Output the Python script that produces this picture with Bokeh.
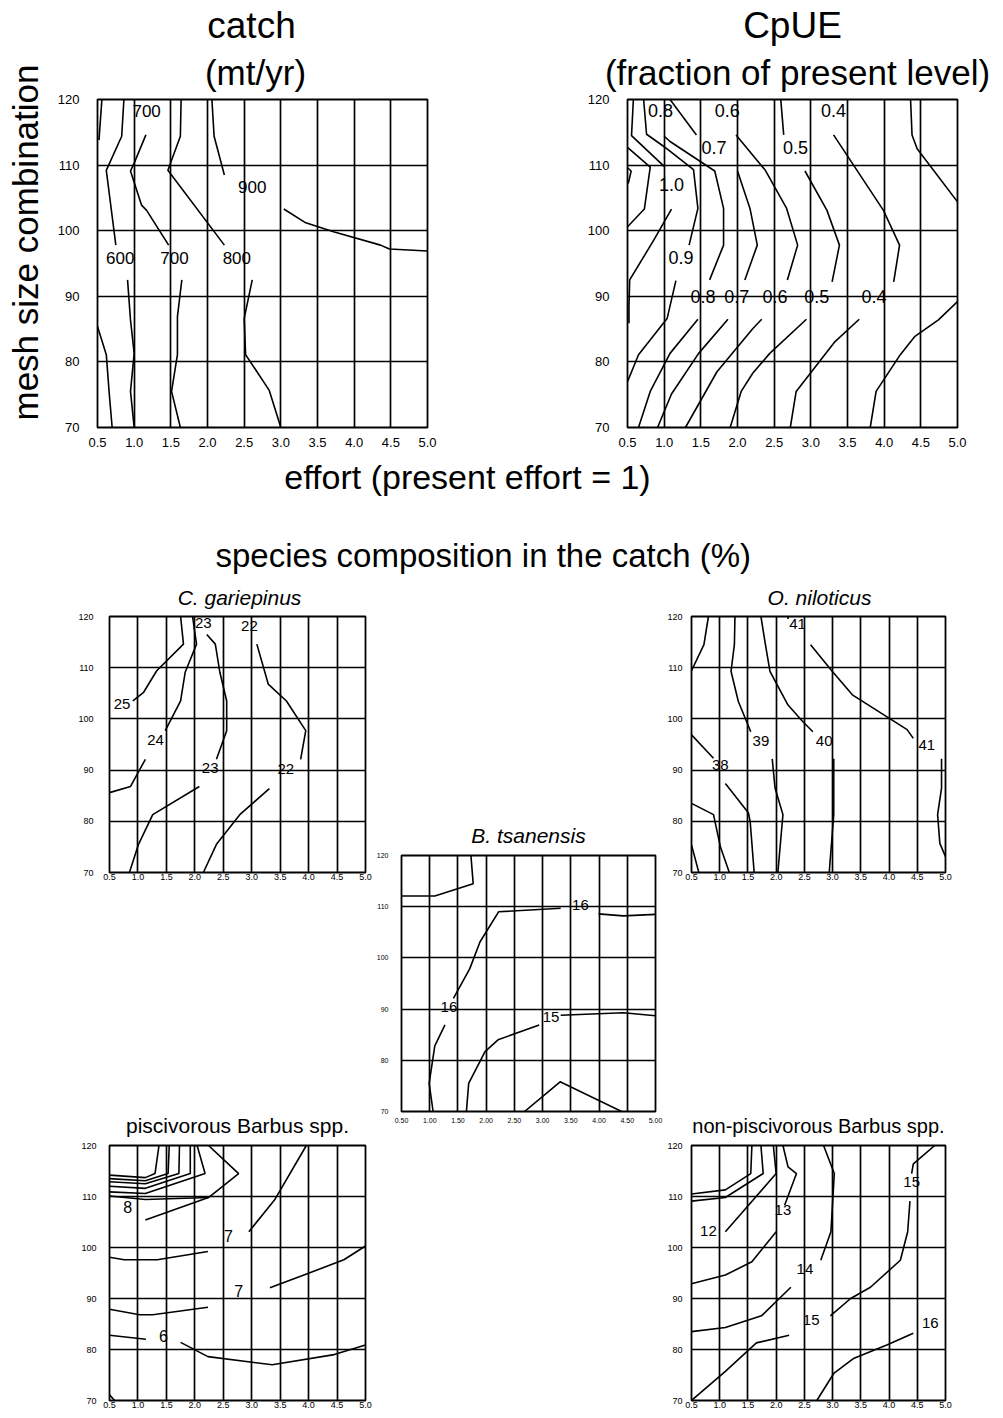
from bokeh.plotting import figure
from bokeh.models import Range1d, FixedTicker, Label
from bokeh.layouts import row, column
from bokeh.embed import file_html
from bokeh.resources import INLINE
from bokeh.core.properties import value

FONT = "Liberation Sans"

# ---------------- axes ----------------
x_ticks = [0.5, 1.0, 1.5, 2.0, 2.5, 3.0, 3.5, 4.0, 4.5, 5.0]
x_tick_labels = ["0.5", "1.0", "1.5", "2.0", "2.5", "3.0", "3.5", "4.0", "4.5", "5.0"]
x_tick_labels_2dp = ["0.50", "1.00", "1.50", "2.00", "2.50", "3.00", "3.50", "4.00", "4.50", "5.00"]
y_ticks = [70, 80, 90, 100, 110, 120]
y_tick_labels = ["70", "80", "90", "100", "110", "120"]

# ---------------- catch (mt/yr) ----------------
catch_xs = [[0.56, 0.52],
            [0.86, 0.83, 0.62, 0.75],
            [1.16, 1.0, 0.95, 1.10, 1.17, 1.47],
            [1.64, 1.63, 1.46, 2.23],
            [2.06, 2.09, 2.23],
            [3.04, 3.34, 3.73, 4.36, 4.48, 5.0],
            [0.91, 0.95, 1.0, 0.95, 1.0],
            [0.5, 0.62, 0.66, 0.70],
            [1.65, 1.59, 1.59, 1.51, 1.63],
            [2.61, 2.50, 2.52, 2.84, 3.0]]
catch_ys = [[120, 113.8],
            [120, 114.4, 109.2, 97.8],
            [114.6, 110.3, 109.1, 103.9, 103.1, 97.8],
            [120, 114.4, 109.2, 97.8],
            [120, 114.4, 108.5],
            [103.3, 101.2, 99.8, 97.8, 97.2, 96.9],
            [92.5, 86.4, 81.3, 75.5, 70],
            [85.4, 81.1, 75.2, 70],
            [92.5, 86.9, 81.1, 75.5, 70],
            [92.5, 86.6, 81.1, 75.7, 70]]
catch_lab_text = ["700", "900", "600", "700", "800"]
catch_lab_x = [1.17, 2.61, 0.81, 1.55, 2.40]
catch_lab_y = [118.3, 106.6, 95.9, 95.9, 95.9]

# ---------------- CpUE (fraction of present level) ----------------
cpue_xs = [[0.58, 0.555, 1.0],
           [0.5, 0.81, 0.73, 0.5],
           [0.5, 0.55, 0.51],
           [0.72, 0.76, 1.0, 1.40, 1.46, 1.34],
           [1.0, 1.08, 1.69, 1.81, 1.81, 1.62],
           [1.08, 1.44],
           [2.0, 2.17, 2.27, 2.10],
           [1.98, 2.38, 2.67, 2.82, 2.68],
           [2.59, 2.63],
           [2.92, 3.22, 3.39, 3.29],
           [3.31, 3.99, 4.21, 4.13],
           [4.36, 4.38, 4.45, 5.0],
           [1.10, 0.86, 0.53, 0.52, 0.52],
           [1.16, 1.04, 0.65, 0.5],
           [1.46, 1.08, 0.81, 0.65],
           [1.87, 1.47, 1.10, 0.91],
           [2.33, 2.21, 1.72, 1.29],
           [2.94, 2.44, 2.21, 2.05, 1.90],
           [3.66, 3.33, 2.80, 2.72],
           [5.0, 4.74, 4.42, 4.22, 3.89, 3.81]]
cpue_ys = [[120, 114.5, 109.8],
           [112.7, 109.7, 103.3, 100.6],
           [109.6, 109.1, 107.2],
           [120, 114.7, 112.8, 109.3, 103.4, 97.8],
           [114.4, 113.6, 109.1, 103.4, 97.8, 92.5],
           [120, 114.6],
           [109.1, 103.4, 97.8, 92.5],
           [114.6, 109.2, 103.4, 97.8, 92.5],
           [120, 114.6],
           [109.1, 103.1, 97.8, 92.2],
           [114.6, 103.1, 97.8, 92.2],
           [120, 114.6, 112.5, 104.4],
           [103.3, 98.6, 92.5, 88.5, 85.9],
           [92.4, 86.6, 81.1, 77.0],
           [86.5, 81.3, 75.5, 70],
           [86.5, 81.3, 75.1, 70],
           [86.5, 85.1, 78.5, 70],
           [86.5, 81.3, 78.3, 75.5, 70],
           [86.5, 83.1, 75.5, 70],
           [89.2, 86.4, 83.9, 81.1, 75.5, 70]]
cpue_lab_text = ["0.8", "0.6", "0.4", "0.7", "0.5", "1.0", "0.9", "0.8", "0.7", "0.6", "0.5", "0.4"]
cpue_lab_x = [0.95, 1.86, 3.31, 1.68, 2.79, 1.10, 1.23, 1.53, 1.99, 2.51, 3.08, 3.86]
cpue_lab_y = [118.3, 118.3, 118.3, 112.7, 112.7, 107.0, 95.9, 90.0, 90.0, 90.0, 90.0, 90.0]

# ---------------- C. gariepinus ----------------
cg_xs = [[1.75, 1.80, 1.33, 1.10, 0.91],
         [1.96, 2.03, 1.83, 1.75, 1.48],
         [2.21, 2.36, 2.44, 2.56, 2.56, 2.38],
         [3.09, 3.29, 3.61, 3.95, 3.86],
         [0.5, 0.87, 1.13],
         [0.85, 1.01, 1.26, 2.08],
         [2.15, 2.38, 2.79, 3.31]]
cg_ys = [[120, 114.6, 109.4, 105.2, 103.5],
         [120, 114.6, 109.1, 103.5, 97.7],
         [116.5, 114.6, 109.1, 103.5, 97.7, 92.1],
         [114.6, 106.8, 103.5, 97.7, 92.1],
         [85.6, 86.8, 92.1],
         [70, 75.5, 81.3, 86.8],
         [70, 75.5, 81.3, 86.4]]
cg_lab_text = ["25", "24", "23", "23", "22", "22"]
cg_lab_x = [0.72, 1.31, 2.15, 2.27, 2.96, 3.60]
cg_lab_y = [102.9, 95.9, 118.8, 90.5, 118.2, 90.3]

# ---------------- O. niloticus ----------------
on_xs = [[0.80, 0.72, 0.5],
         [1.27, 1.26, 1.20, 1.33, 1.55],
         [1.73, 1.81, 1.89, 2.21, 2.47, 2.65],
         [2.61, 2.97, 3.35, 4.32, 4.43],
         [0.5, 0.89],
         [1.10, 1.51, 1.54, 1.61],
         [0.5, 0.89, 1.01, 1.17],
         [0.5, 0.63],
         [1.93, 1.98, 2.12, 2.03],
         [3.02, 3.02, 2.94],
         [4.93, 4.93, 4.86, 4.90, 5.0],
         [2.21, 2.21]]
on_ys = [[120, 114.5, 109.4],
         [120, 114.5, 109.3, 103.4, 97.5],
         [120, 114.5, 109.3, 102.7, 99.5, 97.5],
         [114.5, 109.6, 104.7, 97.9, 96.2],
         [96.9, 92.3],
         [87.4, 81.6, 79.9, 70],
         [83.5, 81.3, 75.1, 70],
         [75.4, 70],
         [92.2, 86.5, 81.3, 70],
         [92.2, 81.3, 70],
         [92.2, 86.5, 81.3, 75.7, 73.1],
         [120, 119.5]]
on_lab_text = ["41", "39", "40", "41", "38"]
on_lab_x = [2.38, 1.73, 2.85, 4.67, 1.01]
on_lab_y = [118.5, 95.7, 95.7, 94.9, 91.0]

# ---------------- B. tsanensis ----------------
bt_xs = [[0.5, 1.09, 1.77, 1.73],
         [1.42, 1.71, 1.89, 2.22, 3.32],
         [3.99, 4.43, 5.0],
         [1.27, 1.09, 0.99, 1.06],
         [1.65, 1.69, 1.98, 2.21, 2.94],
         [3.32, 4.43, 5.0],
         [2.68, 3.31, 4.40]]
bt_ys = [[112.1, 112.1, 114.5, 120],
         [92.1, 97.9, 103.1, 109.0, 109.7],
         [108.6, 108.2, 108.5],
         [86.9, 82.8, 75.5, 70],
         [70, 75.5, 81.7, 84.0, 86.9],
         [88.8, 89.3, 88.7],
         [70, 75.8, 70]]
bt_lab_text = ["16", "16", "15"]
bt_lab_x = [3.67, 1.34, 3.15]
bt_lab_y = [110.3, 90.5, 88.5]

# ---------------- piscivorous Barbus spp. ----------------
pb_xs = [[0.5, 1.13, 1.30, 1.37],
         [0.5, 1.13, 1.53, 1.55],
         [0.5, 1.13, 1.72, 1.73],
         [0.5, 1.13, 1.92, 1.92],
         [0.5, 1.13, 2.18, 2.04],
         [0.5, 1.13, 2.24, 2.77, 2.24],
         [1.13, 2.24],
         [2.95, 3.40, 3.96],
         [0.5, 0.76, 1.34, 2.23],
         [3.32, 3.87, 4.62, 5.0],
         [0.5, 1.03, 1.26, 2.23],
         [0.5, 1.14],
         [1.75, 2.23, 3.36, 4.45, 5.0],
         [0.5, 0.59]]
pb_ys = [[114.2, 113.7, 114.5, 120],
         [113.5, 113.1, 114.5, 120],
         [112.9, 112.5, 114.5, 120],
         [112.0, 111.6, 114.5, 120],
         [110.9, 110.6, 114.5, 120],
         [110.1, 109.4, 109.8, 114.5, 120],
         [105.4, 109.8],
         [103.1, 109.3, 120],
         [98.1, 97.6, 97.6, 99.2],
         [92.1, 94.4, 97.6, 100.3],
         [87.9, 86.8, 86.8, 88.3],
         [82.8, 82.0],
         [81.4, 78.6, 77.0, 79.0, 80.9],
         [71.1, 70]]
pb_lab_text = ["8", "7", "7", "6"]
pb_lab_x = [0.82, 2.59, 2.77, 1.45]
pb_lab_y = [108.0, 102.3, 91.4, 82.7]

# ---------------- non-piscivorous Barbus spp. ----------------
nb_xs = [[0.5, 1.10, 1.55, 1.57],
         [0.5, 1.10, 1.77, 1.73],
         [1.10, 2.00, 1.95],
         [2.12, 2.21, 2.36, 2.15],
         [0.5, 1.10, 1.57, 2.00],
         [2.84, 3.03, 2.97, 2.79],
         [0.5, 1.10, 1.74, 2.26],
         [0.5, 1.10, 1.65, 2.23],
         [2.96, 3.32, 3.67, 4.20, 4.33, 4.37],
         [4.40, 4.43, 4.81],
         [4.43, 3.96, 3.38, 3.02, 2.72]]
nb_ys = [[110.5, 111.3, 114.5, 120],
         [109.1, 109.8, 114.5, 120],
         [103.1, 114.5, 120],
         [120, 115.8, 114.5, 108.3],
         [92.9, 94.6, 97.2, 103.1],
         [120, 114.5, 103.1, 97.5],
         [83.5, 84.3, 86.6, 92.2],
         [70, 75.7, 81.3, 82.8],
         [86.6, 90.0, 92.2, 97.5, 103.1, 109.1],
         [114.5, 116.4, 120],
         [83.2, 80.9, 78.3, 75.3, 70]]
nb_lab_text = ["12", "13", "14", "15", "15", "16"]
nb_lab_x = [0.80, 2.12, 2.51, 2.62, 4.40, 4.73]
nb_lab_y = [103.3, 107.3, 95.7, 85.8, 112.8, 85.1]


def panel(w, h, left, right, top, bottom, xlabels, tick_px, xs_off, ys_off):
    p = figure(width=w, height=h, x_range=Range1d(0.5, 5.0), y_range=Range1d(70, 120),
               title=None, toolbar_location=None, output_backend="svg",
               min_border_left=left, min_border_right=right,
               min_border_top=top, min_border_bottom=bottom)
    p.xaxis.ticker = FixedTicker(ticks=x_ticks)
    p.yaxis.ticker = FixedTicker(ticks=y_ticks)
    p.xaxis.major_label_overrides = {t: s for t, s in zip(x_ticks, xlabels)}
    p.yaxis.major_label_overrides = {t: s for t, s in zip(y_ticks, y_tick_labels)}
    p.xgrid.ticker = FixedTicker(ticks=x_ticks)
    p.ygrid.ticker = FixedTicker(ticks=y_ticks)
    for ax in list(p.xaxis) + list(p.yaxis):
        ax.axis_line_color = None
        ax.major_tick_line_color = None
        ax.minor_tick_line_color = None
        ax.major_tick_out = 0
        ax.major_tick_in = 0
        ax.major_label_text_font = FONT
        ax.major_label_text_font_size = f"{tick_px}px"
        ax.major_label_text_color = "black"
    p.xaxis.major_label_standoff = xs_off
    p.yaxis.major_label_standoff = ys_off
    p.grid.grid_line_color = "black"
    p.grid.grid_line_width = 1.7
    p.grid.grid_line_alpha = 1.0
    p.outline_line_color = "black"
    p.outline_line_width = 1.8
    p.background_fill_color = "white"
    p.border_fill_color = "white"
    return p


def draw(p, xs, ys, lt, lx, ly, size):
    p.multi_line(xs=xs, ys=ys, line_color="black", line_width=1.6)
    p.text(x=lx, y=ly, text=lt, text_font=value(FONT), text_font_size=value(f"{size}px"),
           text_align="center", text_baseline="middle", text_color="black")


MID = 0.36  # label anchor sits this many em above the text baseline


def text_fig(w, h, x0, x1, left, right, items):
    """A figure holding only text labels; x in page pixels (frame spans x0..x1),
    y measured from the figure's top.
    items: (x, baseline_from_top, text, size_px, align, rotated, style)"""
    t = figure(width=w, height=h, x_range=Range1d(x0, x1), y_range=Range1d(h, 0),
               x_axis_type=None, y_axis_type=None, title=None, toolbar_location=None,
               output_backend="svg", min_border_left=left, min_border_right=right,
               min_border_top=0, min_border_bottom=0, outline_line_color=None)
    t.grid.visible = False
    t.background_fill_color = "white"
    t.border_fill_color = "white"
    for (x, y, txt, size, align, rotated, style) in items:
        if rotated:
            lx, ly, ang = x - MID * size, y, 1.5707963
        else:
            lx, ly, ang = x, y - MID * size, 0.0
        t.add_layout(Label(x=lx, y=ly, text=txt, text_font=FONT, text_font_size=f"{size}px",
                           text_align=align, text_baseline="middle", angle=ang,
                           text_font_style=style, text_color="black"))
    return t


# ---------------- top section ----------------
mesh_fig = text_fig(45, 456, 0, 45, 0, 0,
                    [(38, 242, "mesh size combination", 35, "center", True, "normal")])
head_top = text_fig(950, 92, 45, 995, 0, 0, [
    (251, 38, "catch", 37, "center", False, "normal"),
    (255, 85, "(mt/yr)", 35, "center", False, "normal"),
    (792, 38, "CpUE", 37, "center", False, "normal"),
    (797, 85, "(fraction of present level)", 35, "center", False, "normal"),
])

p_catch = panel(454, 364, 52, 72, 7, 29, x_tick_labels, 13, 10, 18)
draw(p_catch, catch_xs, catch_ys, catch_lab_text, catch_lab_x, catch_lab_y, 17)

p_cpue = panel(496, 364, 128, 38, 7, 29, x_tick_labels, 13, 10, 18)
draw(p_cpue, cpue_xs, cpue_ys, cpue_lab_text, cpue_lab_x, cpue_lab_y, 18)

top_section = row(mesh_fig, column(head_top, row(p_catch, p_cpue)))

# ---------------- middle header ----------------
mid_head = text_fig(995, 124, 0, 995, 0, 0, [
    (467, 33, "effort (present effort = 1)", 34, "center", False, "normal"),
    (215, 111, "species composition in the catch (%)", 33, "left", False, "normal"),
])

# ---------------- species panels ----------------
# (title strips share their frame edges with the panel below them)
t_cg = text_fig(373, 30, 109, 365, 109, 8, [(239, 25, "C. gariepinus", 21, "center", False, "italic")])
p_cg = panel(373, 280, 109, 8, 6, 18, x_tick_labels, 9, 1, 16)
draw(p_cg, cg_xs, cg_ys, cg_lab_text, cg_lab_x, cg_lab_y, 15)

t_pb = text_fig(373, 249, 107, 365, 107, 8, [(236, 243, "piscivorous Barbus spp.", 21, "center", False, "normal")])
p_pb = panel(373, 275, 107, 8, 6, 14, x_tick_labels, 9, 1, 13)
draw(p_pb, pb_xs, pb_ys, pb_lab_text, pb_lab_x, pb_lab_y, 16)

t_bt = text_fig(291, 269, 399, 655, 26, 9, [(527, 263, "B. tsanensis", 21, "center", False, "italic")])
p_bt = panel(291, 281, 26, 9, 6, 19, x_tick_labels_2dp, 7, 6, 13)
draw(p_bt, bt_xs, bt_ys, bt_lab_text, bt_lab_x, bt_lab_y, 15)

t_on = text_fig(331, 30, 689, 945, 25, 50, [(818, 25, "O. niloticus", 21, "center", False, "italic")])
p_on = panel(331, 280, 25, 50, 6, 18, x_tick_labels, 9, 1, 9)
draw(p_on, on_xs, on_ys, on_lab_text, on_lab_x, on_lab_y, 15)

t_nb = text_fig(331, 249, 689, 945, 25, 50, [(817, 243, "non-piscivorous Barbus spp.", 20, "center", False, "normal")])
p_nb = panel(331, 275, 25, 50, 6, 14, x_tick_labels, 9, 1, 9)
draw(p_nb, nb_xs, nb_ys, nb_lab_text, nb_lab_x, nb_lab_y, 15)

col1 = column(t_cg, p_cg, t_pb, p_pb)
col2 = column(t_bt, p_bt)
col3 = column(t_on, p_on, t_nb, p_nb)
lower = row(col1, col2, col3)

layout = column(top_section, mid_head, lower)

with open("out.html", "w") as f:
    f.write(file_html(layout, INLINE))
